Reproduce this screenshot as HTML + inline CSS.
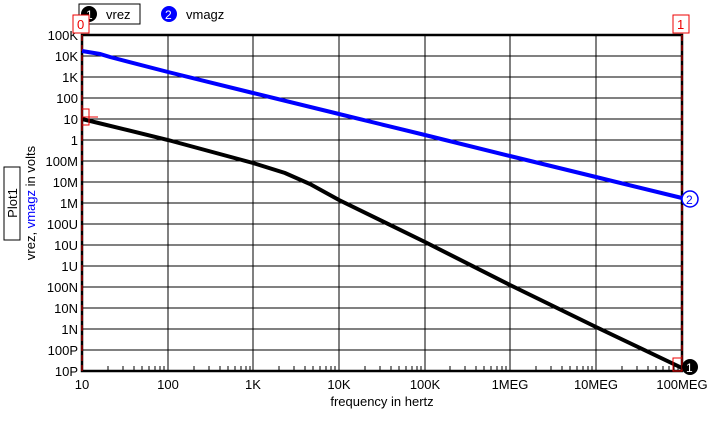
<!DOCTYPE html>
<html><head><style>body{margin:0;background:#fff;width:711px;height:418px;overflow:hidden}</style></head><body>
<svg width="711" height="418" xmlns="http://www.w3.org/2000/svg" font-family="Liberation Sans, sans-serif" font-size="13">
<rect width="711" height="418" fill="#fff"/>
<g stroke="#000" stroke-width="1">
<line x1="82" y1="56" x2="682" y2="56"/><line x1="82" y1="77" x2="682" y2="77"/><line x1="82" y1="98" x2="682" y2="98"/><line x1="82" y1="119" x2="682" y2="119"/><line x1="82" y1="140" x2="682" y2="140"/><line x1="82" y1="161" x2="682" y2="161"/><line x1="82" y1="182" x2="682" y2="182"/><line x1="82" y1="203" x2="682" y2="203"/><line x1="82" y1="224" x2="682" y2="224"/><line x1="82" y1="245" x2="682" y2="245"/><line x1="82" y1="266" x2="682" y2="266"/><line x1="82" y1="287" x2="682" y2="287"/><line x1="82" y1="308" x2="682" y2="308"/><line x1="82" y1="329" x2="682" y2="329"/><line x1="82" y1="350" x2="682" y2="350"/>
<line x1="168" y1="35" x2="168" y2="371"/><line x1="253" y1="35" x2="253" y2="371"/><line x1="339" y1="35" x2="339" y2="371"/><line x1="425" y1="35" x2="425" y2="371"/><line x1="510" y1="35" x2="510" y2="371"/><line x1="596" y1="35" x2="596" y2="371"/>
</g>
<g stroke="#000" stroke-width="1">
<path d="M108 371v-5M123 371v-5M134 371v-5M142 371v-5M149 371v-5M155 371v-5M160 371v-5M164 371v-5M194 371v-5M209 371v-5M220 371v-5M228 371v-5M235 371v-5M241 371v-5M246 371v-5M250 371v-5M279 371v-5M294 371v-5M305 371v-5M313 371v-5M320 371v-5M326 371v-5M331 371v-5M335 371v-5M365 371v-5M380 371v-5M391 371v-5M399 371v-5M406 371v-5M412 371v-5M417 371v-5M421 371v-5M450 371v-5M465 371v-5M476 371v-5M484 371v-5M491 371v-5M497 371v-5M502 371v-5M506 371v-5M536 371v-5M551 371v-5M562 371v-5M570 371v-5M577 371v-5M583 371v-5M588 371v-5M592 371v-5M622 371v-5M637 371v-5M648 371v-5M656 371v-5M663 371v-5M669 371v-5M674 371v-5M678 371v-5"/>
</g>
<rect x="82" y="35" width="600" height="336" fill="none" stroke="#000" stroke-width="2.5"/>
<line x1="82" y1="35" x2="82" y2="371" stroke="#e00" stroke-width="1" stroke-dasharray="6,4"/>
<line x1="682" y1="35" x2="682" y2="371" stroke="#e00" stroke-width="1" stroke-dasharray="6,4"/>
<polyline points="82,51 100,54 110,57 168,72 253,93 339,114 425,135 510,156 596,177 682,198" fill="none" stroke="#0000ff" stroke-width="4"/>
<polyline points="82,119 168,140 253,163 285,173 310,184 339,200 425,242 510,285 596,327 682,368" fill="none" stroke="#000" stroke-width="4"/>
<g text-anchor="end" font-size="13">
<text x="78" y="40">100K</text><text x="78" y="61">10K</text><text x="78" y="82">1K</text><text x="78" y="103">100</text><text x="78" y="124">10</text><text x="78" y="145">1</text><text x="78" y="166">100M</text><text x="78" y="187">10M</text><text x="78" y="208">1M</text><text x="78" y="229">100U</text><text x="78" y="250">10U</text><text x="78" y="271">1U</text><text x="78" y="292">100N</text><text x="78" y="313">10N</text><text x="78" y="334">1N</text><text x="78" y="355">100P</text><text x="78" y="376">10P</text>
</g>
<g text-anchor="middle" font-size="13">
<text x="82" y="389">10</text><text x="168" y="389">100</text><text x="253" y="389">1K</text><text x="339" y="389">10K</text><text x="425" y="389">100K</text><text x="510" y="389">1MEG</text><text x="596" y="389">10MEG</text><text x="682" y="389">100MEG</text>
<text x="382" y="406">frequency in hertz</text>
</g>
<text transform="translate(35,203) rotate(-90)" text-anchor="middle" font-size="13">vrez, <tspan fill="#0000ff">vmagz</tspan> in volts</text>
<rect x="4" y="167" width="16" height="73" fill="none" stroke="#000"/>
<text transform="translate(17,203) rotate(-90)" text-anchor="middle" font-size="13">Plot1</text>
<rect x="79" y="4" width="61" height="20" fill="none" stroke="#000"/>
<circle cx="89" cy="14" r="8" fill="#000"/><text x="86" y="19" fill="#fff" font-size="12">1</text>
<text x="106" y="19">vrez</text>
<circle cx="169" cy="14" r="8" fill="#0000ff"/><text x="165" y="19" fill="#fff" font-size="12">2</text>
<text x="186" y="19">vmagz</text>
<rect x="73" y="15" width="16" height="18" fill="#fff" stroke="#e00"/><text x="77" y="29" fill="#e00" font-size="13">0</text>
<rect x="673" y="15" width="16" height="18" fill="#fff" stroke="#e00"/><text x="677" y="29" fill="#e00" font-size="13">1</text>
<rect x="82" y="109" width="7" height="16" fill="none" stroke="#e00"/>
<line x1="82" y1="117" x2="98" y2="117" stroke="#e00"/>
<rect x="673" y="358" width="9" height="13" fill="none" stroke="#e00"/>
<circle cx="690" cy="199" r="8" fill="#fff" stroke="#0000ff" stroke-width="1.5"/><text x="686" y="204" fill="#0000ff" font-size="12">2</text>
<circle cx="690" cy="367" r="8" fill="#000"/><text x="686" y="372" fill="#fff" font-size="12">1</text>
</svg>
</body></html>
